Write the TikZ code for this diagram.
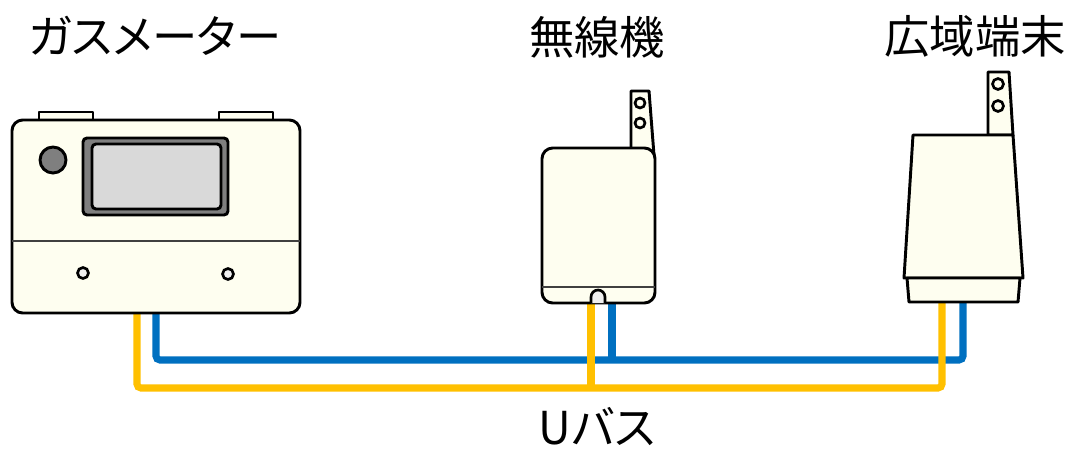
\documentclass[tikz,border=0pt]{standalone}
\usepackage{fontspec}
\setmainfont{Noto Sans CJK JP}[RawFeature=+palt]
\definecolor{cream}{HTML}{FEFEF0}
\definecolor{busyellow}{HTML}{FFC000}
\definecolor{busblue}{HTML}{0070C0}
\definecolor{screen}{HTML}{D9D9D9}
\definecolor{bezel}{HTML}{7F7F7F}
\definecolor{lamp}{HTML}{EFEFEF}

\tikzset{
  housing/.style={draw=black, line width=2.2pt, fill=cream, line join=round},
  seam/.style={draw=black!75, line width=1.1pt},
  hole/.style={draw=black, line width=2pt, fill=lamp},
  wire/.style={line width=5.3pt, rounded corners=3},
  caption/.style={font=\fontsize{34}{40}\selectfont, inner sep=0pt}
}

\begin{document}
\begin{tikzpicture}[x=0.75pt, y=-0.75pt]
  \useasboundingbox (0,0) rectangle (1070,451);

  % wire ends under each device
  \coordinate (meterY) at (137,313);
  \coordinate (meterB) at (156,313);
  \coordinate (radioY) at (591,303);
  \coordinate (radioB) at (612,303);
  \coordinate (termY) at (942,302);
  \coordinate (termB) at (963,302);

  % U-bus: blue pair under, yellow pair on top
  \draw[wire, busblue] (meterB) -- ++(0,47) -| (termB);
  \draw[wire, busblue] (radioB) -- ++(0,57);
  \draw[wire, busyellow] (meterY) -- ++(0,75) -| (termY);
  \draw[wire, busyellow] (radioY) -- ++(0,85);

  % gas meter
  \draw[housing, line width=1.8pt] (39,112) rectangle (93,121);
  \draw[housing, line width=1.8pt] (219,112) rectangle (273,121);
  \draw[housing, rounded corners=8] (12,120) rectangle (300,313);
  \draw[seam] (12,241) -- (300,241);
  \draw[line width=2.2pt, fill=bezel, rounded corners=3] (83,138) rectangle (228,215);
  \draw[line width=2.2pt, fill=screen, rounded corners=3] (92,144) rectangle (221,209);
  \draw[line width=2.2pt, fill=bezel] (53,160) circle (13);
  \draw[hole] (83,273) circle (5.5);
  \draw[hole] (228,274) circle (5.5);

  % radio unit
  \draw[housing] (631,91) -- (649,91) -- (654,155) -- (631,155) -- cycle;
  \draw[hole, fill=cream] (640,103) circle (5);
  \draw[hole, fill=cream] (640,123) circle (5);
  \draw[housing, rounded corners=8] (542,148) rectangle (655,303);
  \draw[seam] (542,287) -- (655,287);
  \draw[line width=2pt, fill=lamp] (591,303) -- (591,297) arc (180:360:7) -- (605,303);

  % wide-area terminal
  \draw[housing] (988,72) -- (1009,72) -- (1013,135) -- (988,135) -- cycle;
  \draw[hole, fill=cream] (998,84) circle (5.5);
  \draw[hole, fill=cream] (998,106) circle (5.5);
  \draw[housing] (913,135) -- (1013,135) -- (1023,278) -- (904,278) -- cycle;
  \draw[housing] (907,278) -- (1020,278) -- (1018,302) -- (909,302) -- cycle;

  % captions
  \node[caption] (meterName) at (155,36) {ガスメーター};
  \node[caption] (radioName) at (597,37) {無線機};
  \node[caption] (termName) at (975,36) {広域端末};
  \node[caption, anchor=base] (busName) at (597,444) {Uバス};
\end{tikzpicture}
\end{document}
